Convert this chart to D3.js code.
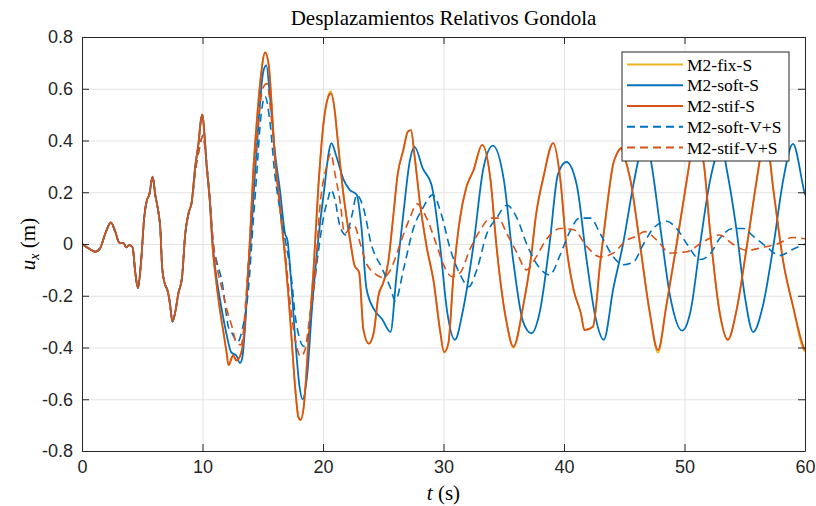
<!DOCTYPE html>
<html>
<head>
<meta charset="utf-8">
<script src="https://cdn.jsdelivr.net/npm/d3@7"></script>
<style>
  body { margin: 0; background: #fff; }
  svg { display: block; }
  .tick text { font-family: "Liberation Sans", Arial, sans-serif; font-size: 18px; fill: #262626; }
  .serif { font-family: "Liberation Serif", "Times New Roman", serif; fill: #000; }
</style>
</head>
<body>
<svg id="chart"></svg>
<script>
// ---- data: [t (s), u_x (m)] ----
var xTicks = [0, 10, 20, 30, 40, 50, 60];
var yTicks = [-0.8, -0.6, -0.4, -0.2, 0, 0.2, 0.4, 0.6, 0.8];

// common start (all five runs overlap until ~9 s)
var startCommon = [
  [0, 0], [0.55, -0.017], [1.1, -0.03], [1.5, -0.017], [1.93, 0.04], [2.4, 0.083],
  [2.76, 0.048], [3.1, 0.005], [3.45, 0.003], [3.67, -0.013], [3.95, -0.004], [4.2, -0.013],
  [4.42, -0.11], [4.64, -0.17], [4.89, -0.075], [5.17, 0.106], [5.39, 0.17], [5.58, 0.19],
  [5.86, 0.26], [6.08, 0.19], [6.35, 0.12], [6.5, 0.06], [6.65, -0.09], [6.85, -0.15],
  [7.1, -0.18], [7.3, -0.23], [7.5, -0.30], [7.75, -0.26], [8.0, -0.19], [8.3, -0.13],
  [8.57, 0.04], [8.85, 0.12]
];

var stifS = [
  [9.1, 0.16], [9.4, 0.30], [9.67, 0.39], [9.87, 0.48], [10.0, 0.50], [10.15, 0.43],
  [10.35, 0.30], [10.6, 0.17], [10.85, -0.02], [11.1, -0.13], [11.4, -0.24], [11.7, -0.33],
  [12.0, -0.42], [12.16, -0.468], [12.55, -0.43], [12.8, -0.45], [13.1, -0.435], [13.4, -0.37],
  [13.7, -0.18], [13.96, 0.04], [14.2, 0.27], [14.5, 0.47], [14.8, 0.63], [15.2, 0.74],
  [15.5, 0.69], [15.75, 0.53], [16.0, 0.34], [16.45, 0.14], [16.85, -0.05], [17.1, -0.18],
  [17.4, -0.37], [17.7, -0.56], [17.95, -0.667], [18.15, -0.68], [18.4, -0.63], [18.8, -0.37],
  [19.2, -0.11], [19.6, 0.21], [20.05, 0.47], [20.45, 0.57], [20.65, 0.582], [21.0, 0.505],
  [21.14, 0.44], [21.7, 0.19], [22.3, 0.0], [22.6, -0.08], [23.0, -0.11], [23.35, -0.33],
  [23.8, -0.385], [24.2, -0.345], [24.6, -0.2], [25.0, -0.15], [25.4, -0.075], [25.8, 0.093],
  [26.2, 0.27], [26.65, 0.36], [27.05, 0.435], [27.3, 0.44], [27.6, 0.34], [28.05, 0.157],
  [28.6, -0.01], [29.2, -0.15], [29.7, -0.33], [30.05, -0.417], [30.4, -0.385], [30.8, -0.14],
  [31.35, 0.093], [31.9, 0.22], [32.5, 0.286], [33.2, 0.383], [33.9, 0.248], [34.4, -0.01],
  [35.25, -0.307], [35.8, -0.397], [36.6, -0.243], [37.2, -0.075], [37.7, 0.119], [38.3, 0.26],
  [39.1, 0.39], [39.7, 0.248], [40.2, -0.01], [40.8, -0.178], [41.4, -0.268], [41.7, -0.333],
  [42.4, -0.32], [43.0, -0.075], [43.5, 0.119], [44.1, 0.313], [44.4, 0.35], [44.75, 0.37],
  [45.0, 0.34], [45.5, 0.25], [46.3, 0.0], [47.1, -0.26], [47.8, -0.41], [48.5, -0.236],
  [49.35, 0.0], [50.2, 0.25], [50.6, 0.36], [51.0, 0.40], [51.6, 0.31], [52.1, 0.06],
  [52.9, -0.26], [53.6, -0.37], [54.3, -0.26], [55.2, 0.0], [56.0, 0.25], [56.4, 0.36],
  [56.8, 0.40], [57.4, 0.2], [58.2, -0.07], [59.0, -0.24], [59.9, -0.40], [60, -0.41]
];

var fixS = [
  [9.1, 0.16], [9.4, 0.30], [9.67, 0.39], [9.87, 0.48], [10.0, 0.50], [10.15, 0.43],
  [10.35, 0.30], [10.6, 0.17], [10.85, -0.02], [11.1, -0.13], [11.4, -0.24], [11.7, -0.33],
  [12.0, -0.42], [12.16, -0.468], [12.55, -0.43], [12.8, -0.45], [13.1, -0.435], [13.4, -0.37],
  [13.7, -0.18], [13.96, 0.04], [14.2, 0.27], [14.5, 0.47], [14.8, 0.63], [15.2, 0.74],
  [15.5, 0.69], [15.75, 0.53], [16.0, 0.34], [16.45, 0.14], [16.85, -0.05], [17.1, -0.18],
  [17.4, -0.37], [17.7, -0.56], [17.95, -0.667], [18.15, -0.68], [18.4, -0.63], [18.8, -0.37],
  [19.2, -0.11], [19.6, 0.21], [20.05, 0.47], [20.45, 0.575], [20.65, 0.59], [21.0, 0.505],
  [21.14, 0.44], [21.7, 0.19], [22.3, 0.0], [22.6, -0.08], [23.0, -0.11], [23.35, -0.33],
  [23.8, -0.385], [24.2, -0.345], [24.6, -0.2], [25.0, -0.15], [25.4, -0.075], [25.8, 0.093],
  [26.2, 0.27], [26.65, 0.36], [27.05, 0.435], [27.3, 0.44], [27.6, 0.34], [28.05, 0.157],
  [28.6, -0.01], [29.2, -0.15], [29.7, -0.33], [30.05, -0.42], [30.4, -0.385], [30.8, -0.14],
  [31.35, 0.093], [31.9, 0.22], [32.5, 0.286], [33.2, 0.383], [33.9, 0.248], [34.4, -0.01],
  [35.25, -0.307], [35.8, -0.40], [36.6, -0.243], [37.2, -0.075], [37.7, 0.119], [38.3, 0.26],
  [39.1, 0.39], [39.7, 0.248], [40.2, -0.01], [40.8, -0.178], [41.4, -0.268], [41.7, -0.333],
  [42.4, -0.32], [43.0, -0.075], [43.5, 0.119], [44.1, 0.313], [44.4, 0.35], [44.75, 0.37],
  [45.0, 0.34], [45.5, 0.25], [46.3, 0.0], [47.1, -0.26], [47.8, -0.42], [48.5, -0.236],
  [49.35, 0.0], [50.2, 0.25], [50.6, 0.36], [51.0, 0.40], [51.6, 0.31], [52.1, 0.06],
  [52.9, -0.26], [53.6, -0.37], [54.3, -0.26], [55.2, 0.0], [56.0, 0.25], [56.4, 0.36],
  [56.8, 0.40], [57.4, 0.2], [58.2, -0.07], [59.0, -0.24], [59.9, -0.41], [60, -0.415]
];

var softS = [
  [9.1, 0.16], [9.4, 0.30], [9.67, 0.39], [9.87, 0.48], [10.0, 0.50], [10.15, 0.43],
  [10.35, 0.30], [10.6, 0.17], [10.85, 0.0], [11.1, -0.11], [11.4, -0.2], [11.7, -0.28],
  [12.0, -0.35], [12.4, -0.42], [12.8, -0.43], [13.1, -0.46], [13.3, -0.44], [13.55, -0.31],
  [13.8, -0.11], [14.1, 0.08], [14.35, 0.27], [14.65, 0.47], [15.06, 0.67], [15.3, 0.69],
  [15.6, 0.57], [16.0, 0.36], [16.45, 0.2], [16.85, 0.04], [17.05, 0.015], [17.3, -0.11],
  [17.7, -0.37], [18.05, -0.55], [18.3, -0.60], [18.7, -0.5], [19.1, -0.24], [19.6, 0.015],
  [20.1, 0.21], [20.5, 0.36], [20.7, 0.39], [21.1, 0.34], [21.7, 0.25], [22.2, 0.21],
  [22.8, 0.19], [23.2, 0.06], [23.6, -0.17], [24.2, -0.25], [24.9, -0.29], [25.6, -0.34],
  [26.1, -0.12], [26.7, 0.13], [27.2, 0.32], [27.6, 0.375], [28.3, 0.29], [29.0, 0.23],
  [29.7, 0.0], [30.3, -0.26], [30.95, -0.37], [31.6, -0.26], [32.5, 0.0], [33.3, 0.29],
  [34.1, 0.38], [35.0, 0.25], [35.8, -0.07], [36.6, -0.3], [37.3, -0.345], [38.0, -0.26],
  [38.8, 0.0], [39.5, 0.27], [40.2, 0.317], [41.05, 0.23], [41.9, -0.07], [42.6, -0.28],
  [43.3, -0.37], [44.1, -0.17], [44.9, 0.0], [45.8, 0.24], [46.3, 0.35], [46.8, 0.40],
  [47.1, 0.35], [48.0, 0.06], [48.8, -0.2], [49.8, -0.335], [50.5, -0.26], [51.3, 0.0],
  [52.1, 0.24], [52.7, 0.35], [53.1, 0.38], [53.5, 0.29], [54.3, 0.06], [55.0, -0.2],
  [55.7, -0.34], [56.5, -0.24], [57.4, 0.0], [58.2, 0.25], [59.0, 0.387], [59.9, 0.21],
  [60, 0.19]
];

var softVS = [
  [9.1, 0.16], [9.4, 0.28], [9.7, 0.36], [10.05, 0.42], [10.3, 0.33], [10.6, 0.18],
  [10.9, 0.0], [11.2, -0.07], [11.6, -0.14], [12.2, -0.33], [12.45, -0.345], [12.9, -0.38],
  [13.3, -0.33], [13.8, -0.18], [14.2, 0.08], [14.5, 0.27], [14.8, 0.47], [15.2, 0.57],
  [15.6, 0.47], [16.0, 0.27], [16.4, 0.14], [16.85, 0.02], [17.4, -0.14], [17.7, -0.28],
  [17.95, -0.345], [18.4, -0.395], [18.8, -0.345], [19.2, -0.19], [19.6, -0.035], [20.05, 0.105],
  [20.45, 0.18], [20.65, 0.21], [21.0, 0.17], [21.4, 0.07], [21.9, 0.035], [22.4, 0.11],
  [22.8, 0.19], [23.35, 0.14], [24.0, 0.0], [24.9, -0.094], [25.6, -0.17], [26.0, -0.22],
  [26.7, -0.094], [27.5, 0.06], [28.3, 0.14], [29.1, 0.19], [29.85, 0.11], [30.5, -0.01],
  [31.4, -0.12], [32.1, -0.165], [32.8, -0.094], [33.6, 0.04], [34.4, 0.1], [35.25, 0.15],
  [36.1, 0.1], [36.9, 0.0], [38.0, -0.094], [38.8, -0.12], [39.7, -0.04], [40.5, 0.05],
  [41.3, 0.1], [42.2, 0.1], [43.0, 0.04], [44.1, -0.05], [44.9, -0.08], [45.75, -0.07],
  [46.6, 0.0], [47.4, 0.06], [48.5, 0.088], [49.35, 0.06], [50.2, 0.0], [51.3, -0.06],
  [52.1, -0.04], [52.9, 0.02], [54.0, 0.06], [54.9, 0.06], [55.7, 0.03], [56.8, -0.01],
  [57.9, -0.045], [59.0, -0.02], [60, 0.0]
];

var stifVS = [
  [9.1, 0.16], [9.4, 0.28], [9.7, 0.36], [10.05, 0.42], [10.3, 0.33], [10.6, 0.18],
  [10.9, 0.0], [11.2, -0.09], [11.6, -0.17], [12.0, -0.25], [12.45, -0.32], [12.8, -0.38],
  [13.2, -0.39], [13.75, -0.11], [14.1, 0.14], [14.5, 0.40], [15.0, 0.60], [15.35, 0.62],
  [15.75, 0.47], [16.15, 0.27], [16.55, 0.08], [16.9, -0.05], [17.3, -0.24], [17.7, -0.37],
  [18.15, -0.435], [18.5, -0.41], [18.9, -0.28], [19.4, -0.09], [19.7, 0.12], [20.3, 0.3],
  [20.65, 0.35], [21.0, 0.27], [21.4, 0.17], [21.8, 0.04], [22.2, 0.06], [22.6, 0.07],
  [23.1, 0.0], [23.6, -0.075], [24.2, -0.11], [25.0, -0.13], [25.6, -0.1], [26.4, 0.0],
  [27.2, 0.1], [27.8, 0.155], [28.6, 0.1], [29.4, 0.0], [30.0, -0.08], [30.7, -0.126],
  [31.4, -0.11], [32.2, -0.02], [33.0, 0.05], [33.9, 0.1], [34.55, 0.1], [35.25, 0.04],
  [36.1, -0.035], [36.9, -0.1], [37.7, -0.05], [38.5, 0.015], [39.7, 0.06], [40.8, 0.055],
  [41.9, -0.01], [43.0, -0.05], [44.1, -0.035], [45.2, 0.015], [46.0, 0.03], [46.7, 0.048],
  [47.7, 0.015], [48.8, -0.035], [50.2, -0.03], [51.6, 0.01], [52.9, 0.035], [54.0, 0.0],
  [55.2, -0.025], [56.3, -0.015], [57.7, 0.0], [59.0, 0.025], [60, 0.02]
];

var seriesNames = ["M2-fix-S", "M2-soft-S", "M2-stif-S", "M2-soft-V+S", "M2-stif-V+S"];
var seriesData = [fixS, softS, stifS, softVS, stifVS];
var seriesColors = ["#EDB120", "#0072BD", "#D95319", "#0072BD", "#D95319"];
var seriesDashed = [false, false, false, true, true];

// ---- layout ----
var svgWidth = 816, svgHeight = 506,
    margin = {top: 37, right: 11, bottom: 55, left: 82},
    width = svgWidth - margin.left - margin.right,
    height = svgHeight - margin.top - margin.bottom,
    axisColor = "#262626";

var svg = d3.select("#chart").attr("width", svgWidth).attr("height", svgHeight);
var g = svg.append("g").attr("transform", "translate(" + [margin.left, margin.top] + ")");

var x = d3.scaleLinear().domain([0, 60]).range([0, width]);
var y = d3.scaleLinear().domain([-0.8, 0.8]).range([height, 0]);

// grid
g.append("g").attr("transform", "translate(0," + height + ")")
  .call(d3.axisBottom(x).tickValues(xTicks).tickSize(-height).tickFormat(""))
  .call(function(s) { s.select(".domain").remove(); s.selectAll("line").attr("stroke", "#e3e3e3"); });
g.append("g")
  .call(d3.axisLeft(y).tickValues(yTicks).tickSize(-width).tickFormat(""))
  .call(function(s) { s.select(".domain").remove(); s.selectAll("line").attr("stroke", "#e3e3e3"); });

// lines
g.append("clipPath").attr("id", "plotclip")
  .append("rect").attr("width", width).attr("height", height);

var line = d3.line()
  .x(function(d) { return x(d[0]); })
  .y(function(d) { return y(d[1]); })
  .curve(d3.curveMonotoneX);

var lines = g.append("g").attr("clip-path", "url(#plotclip)");
seriesData.forEach(function(s, i) {
  lines.append("path")
    .attr("d", line(startCommon.concat(s)))
    .attr("fill", "none")
    .attr("stroke", seriesColors[i])
    .attr("stroke-width", seriesDashed[i] ? 1.6 : 1.8)
    .attr("stroke-linejoin", "round")
    .attr("stroke-dasharray", seriesDashed[i] ? "8,5" : null);
});

// axes (ticks inward, box on)
function styleAxis(s) {
  s.select(".domain").attr("stroke", axisColor);
  s.selectAll(".tick line").attr("stroke", axisColor);
}
g.append("g").attr("transform", "translate(0," + height + ")")
  .call(d3.axisBottom(x).tickValues(xTicks).tickSize(-7).tickSizeOuter(0).tickPadding(9)
    .tickFormat(function(d) { return String(d); }))
  .call(styleAxis);
g.append("g")
  .call(d3.axisTop(x).tickValues(xTicks).tickSize(-7).tickSizeOuter(0).tickFormat(""))
  .call(styleAxis);
g.append("g")
  .call(d3.axisLeft(y).tickValues(yTicks).tickSize(-7).tickSizeOuter(0).tickPadding(9)
    .tickFormat(function(d) { return d === 0 ? "0" : d.toFixed(1); }))
  .call(styleAxis);
g.append("g").attr("transform", "translate(" + width + ",0)")
  .call(d3.axisRight(y).tickValues(yTicks).tickSize(-7).tickSizeOuter(0).tickFormat(""))
  .call(styleAxis);
g.selectAll(".tick text").attr("fill", axisColor);

// title and labels
svg.append("text").attr("class", "serif")
  .attr("x", margin.left + width / 2).attr("y", 25)
  .attr("text-anchor", "middle").style("font-size", "21px")
  .text("Desplazamientos Relativos Gondola");

var xl = svg.append("text").attr("class", "serif")
  .attr("x", margin.left + width / 2).attr("y", 500)
  .attr("text-anchor", "middle").style("font-size", "21px");
xl.append("tspan").style("font-style", "italic").text("t");
xl.append("tspan").text(" (s)");

var yl = svg.append("text").attr("class", "serif")
  .attr("transform", "translate(35," + (margin.top + height / 2) + ") rotate(-90)")
  .attr("text-anchor", "middle").style("font-size", "21px");
yl.append("tspan").style("font-style", "italic").text("u");
yl.append("tspan").style("font-style", "italic").style("font-size", "14px").attr("dy", 4).text("x");
yl.append("tspan").attr("dy", -4).text(" (m)");

// legend
var legend = svg.append("g").attr("transform", "translate(622,52)");
legend.append("rect").attr("width", 167).attr("height", 109)
  .attr("fill", "#fff").attr("stroke", "#262626").attr("stroke-width", 1);
var rowY = d3.scaleLinear().domain([0, 4]).range([12.5, 95.5]);
seriesNames.forEach(function(name, i) {
  legend.append("line")
    .attr("x1", 5).attr("x2", 61).attr("y1", rowY(i)).attr("y2", rowY(i))
    .attr("stroke", seriesColors[i]).attr("stroke-width", 1.8)
    .attr("stroke-dasharray", seriesDashed[i] ? "8,5" : null);
  legend.append("text").attr("class", "serif")
    .attr("x", 65).attr("y", rowY(i) + 6)
    .style("font-size", "17.5px")
    .text(name);
});
</script>
</body>
</html>
